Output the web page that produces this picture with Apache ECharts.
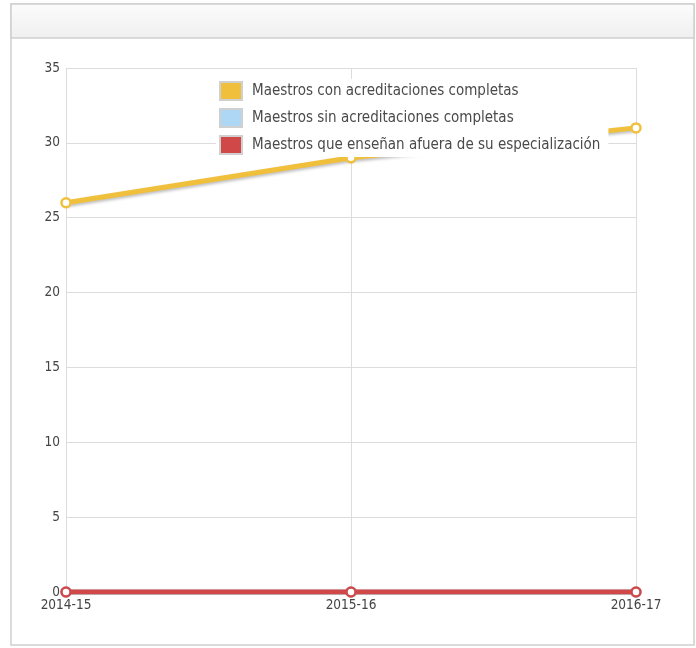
<!DOCTYPE html>
<html><head><meta charset="utf-8">
<script src="https://cdn.jsdelivr.net/npm/echarts@6/dist/echarts.min.js"></script>
<style>html,body{margin:0;padding:0;background:#fff}#c{width:696px;height:648px}</style>
</head><body><div id="c"></div>
<script>
const categories = ['2014-15','2015-16','2016-17'];
const seriesNames = ['Maestros con acreditaciones completas','Maestros sin acreditaciones completas','Maestros que enseñan afuera de su especialización'];
const conAcred = [26, 29, 31];
const sinAcred = [0, 0, 0];
const afuera = [0, 0, 0];
const yTicks = [0, 5, 10, 15, 20, 25, 30, 35];
const colors = ['#f0c03c', '#aed6f5', '#d04848'];
const font = '"DejaVu Sans Condensed", "DejaVu Sans", sans-serif';
const chart = echarts.init(document.getElementById('c'));
function mk(name, data, color, z) {
  return {
    name: name, type: 'line', data: data, z: z,
    symbol: 'circle', symbolSize: 9, showSymbol: true,
    lineStyle: {width: 5, color: color, shadowColor: 'rgba(0,0,0,0.25)', shadowBlur: 3, shadowOffsetY: 2},
    itemStyle: {color: '#fff', borderColor: color, borderWidth: 2.5},
    animation: false
  };
}
chart.setOption({
  animation: false,
  graphic: [
    {type: 'rect', shape: {x: 11, y: 4, width: 683, height: 641}, style: {fill: '#fff', stroke: '#cfcfcf', lineWidth: 1.5}, z: -10},
    {type: 'rect', shape: {x: 11, y: 4, width: 683, height: 34}, style: {fill: new echarts.graphic.LinearGradient(0,0,0,1,[{offset:0,color:'#fcfcfc'},{offset:1,color:'#efefef'}]), stroke: '#cfcfcf', lineWidth: 1.5}, z: -9}
  ],
  grid: {left: 66, right: 60, top: 68, bottom: 56, containLabel: false},
  legend: {
    orient: 'vertical', left: 216, top: 79, z: 10,
    itemWidth: 22, itemHeight: 18, itemGap: 7,
    backgroundColor: '#ffffff', padding: [2, 8, 2, 3],
    textStyle: {fontFamily: font, fontSize: 15, color: '#4a4a4a', padding: [0, 0, 0, 5]},
    data: seriesNames.map((n, i) => ({name: n, icon: 'rect', itemStyle: {color: colors[i], borderColor: '#d0d0d0', borderWidth: 2}}))
  },
  xAxis: {
    type: 'category', data: categories, boundaryGap: false,
    axisLine: {show: false}, axisTick: {show: false},
    axisLabel: {fontFamily: font, fontSize: 13.5, color: '#444', margin: 6},
    splitLine: {show: true, lineStyle: {color: '#dcdcdc', width: 1}}
  },
  yAxis: {
    type: 'value', min: 0, max: 35, interval: 5,
    axisLine: {show: false}, axisTick: {show: false},
    axisLabel: {fontFamily: font, fontSize: 13.5, color: '#444', margin: 6},
    splitLine: {show: true, lineStyle: {color: '#dcdcdc', width: 1}}
  },
  series: [
    mk(seriesNames[0], conAcred, colors[0], 3),
    mk(seriesNames[1], sinAcred, colors[1], 2),
    mk(seriesNames[2], afuera, colors[2], 4)
  ]
});
</script></body></html>
